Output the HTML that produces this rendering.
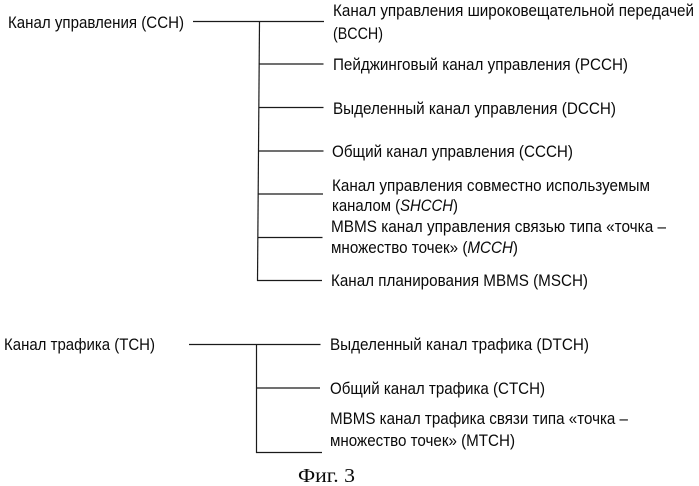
<!DOCTYPE html>
<html>
<head>
<meta charset="utf-8">
<style>
html,body{margin:0;padding:0;background:#fff;width:699px;height:486px;overflow:hidden}
svg{display:block}
text{font-family:"Liberation Sans",sans-serif;font-size:17px;fill:#0a0a0a}
line{stroke:#1a1a1a;stroke-width:1.2}
#all{filter:blur(0.35px)}
</style>
</head>
<body>
<svg width="699" height="486" viewBox="0 0 699 486" xmlns="http://www.w3.org/2000/svg">
<rect width="699" height="486" fill="#fff"/>
<g id="all">
<line x1="193" y1="21.5" x2="324" y2="21.5"/>
<line x1="259.5" y1="21" x2="257.5" y2="281"/>
<line x1="259" y1="64" x2="323.5" y2="64"/>
<line x1="259" y1="107.5" x2="323.5" y2="107.5"/>
<line x1="259" y1="151" x2="323.5" y2="151"/>
<line x1="258.5" y1="194" x2="323" y2="194"/>
<line x1="258" y1="237.5" x2="322.5" y2="237.5"/>
<line x1="257" y1="280.5" x2="322" y2="280.5"/>
<line x1="189" y1="344.5" x2="320.5" y2="344.5"/>
<line x1="256.5" y1="344" x2="256.5" y2="453"/>
<line x1="256.5" y1="388" x2="320" y2="388"/>
<line x1="256" y1="452.5" x2="322" y2="452.5"/>

<text x="8" y="28" textLength="176" lengthAdjust="spacingAndGlyphs">Канал управления (ССН)</text>
<text x="333" y="16" textLength="361" lengthAdjust="spacingAndGlyphs">Канал управления широковещательной передачей</text>
<text x="333" y="39" textLength="50" lengthAdjust="spacingAndGlyphs">(BCCH)</text>
<text x="333" y="70" textLength="295" lengthAdjust="spacingAndGlyphs">Пейджинговый канал управления (PCCH)</text>
<text x="333" y="114" textLength="283" lengthAdjust="spacingAndGlyphs">Выделенный канал управления (DCCH)</text>
<text x="332" y="157" textLength="241" lengthAdjust="spacingAndGlyphs">Общий канал управления (CCCH)</text>
<text x="332" y="191" textLength="318" lengthAdjust="spacingAndGlyphs">Канал управления совместно используемым</text>
<text x="332" y="211" textLength="126" lengthAdjust="spacingAndGlyphs">каналом (<tspan font-style="italic">SHCCH</tspan>)</text>
<text x="331" y="232" textLength="335" lengthAdjust="spacingAndGlyphs">MBMS канал управления связью типа «точка –</text>
<text x="331" y="253" textLength="187" lengthAdjust="spacingAndGlyphs">множество точек» (<tspan font-style="italic">MCCH</tspan>)</text>
<text x="331" y="286" textLength="257" lengthAdjust="spacingAndGlyphs">Канал планирования MBMS (MSCH)</text>

<text x="4" y="350" textLength="151" lengthAdjust="spacingAndGlyphs">Канал трафика (TCH)</text>
<text x="330" y="350" textLength="259" lengthAdjust="spacingAndGlyphs">Выделенный канал трафика (DTCH)</text>
<text x="330" y="394" textLength="215" lengthAdjust="spacingAndGlyphs">Общий канал трафика (CTCH)</text>
<text x="330" y="424" textLength="298" lengthAdjust="spacingAndGlyphs">MBMS канал трафика связи типа «точка –</text>
<text x="330" y="446" textLength="185" lengthAdjust="spacingAndGlyphs">множество точек» (MTCH)</text>

<text x="298" y="482" textLength="57" lengthAdjust="spacingAndGlyphs" style="font-family:'Liberation Serif',serif;font-size:20px">Фиг. 3</text>
</g>
</svg>
</body>
</html>
